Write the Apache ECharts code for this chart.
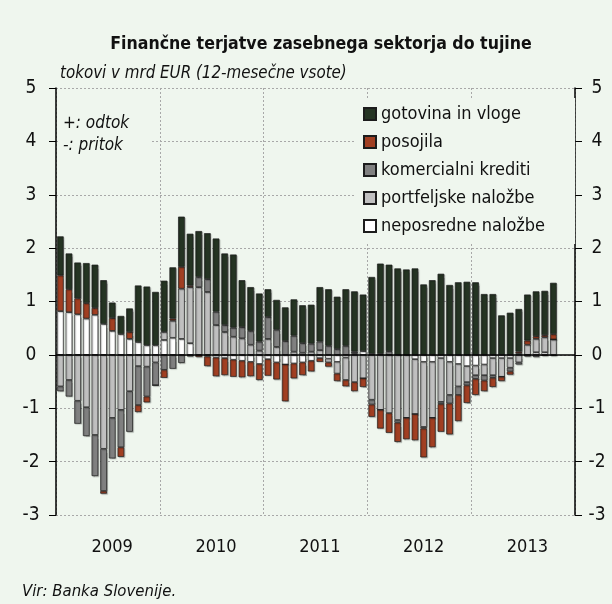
<!DOCTYPE html>
<html>
<head>
<meta charset="utf-8">
<script src="https://cdn.jsdelivr.net/npm/echarts@6/dist/echarts.min.js"></script>
<style>
  html, body { margin: 0; padding: 0; background: #eff6ee; }
  #chart { width: 612px; height: 604px; }
</style>
</head>
<body>
<div id="chart"></div>
<script>
// leta na osi x, meseci so kategorije
const years = ['2009', '2010', '2011', '2012', '2013'];
const yTicks = [-3, -2, -1, 0, 1, 2, 3, 4, 5];

// mesečne vrednosti (12-mesečne vsote, mrd EUR), jan 2009 - okt 2013
const neposredne = [0.82, 0.80, 0.76, 0.68, 0.75, 0.58, 0.45, 0.39, 0.30, 0.24, 0.18, 0.18,
  0.28, 0.32, 0.30, 0.22, 0, -0.03, -0.05, -0.06, -0.09, -0.11, -0.13, -0.17,
  -0.08, -0.14, -0.18, -0.16, -0.14, -0.11, -0.06, -0.07, -0.13, -0.05, 0.03, 0.07,
  0.02, 0.02, 0, 0, 0, -0.08, -0.13, -0.13, -0.06, -0.13, -0.17, -0.21,
  -0.20, -0.18, -0.06, -0.06, -0.06, 0.03, 0, 0.05, 0.05, -0.02];
const portfeljske = [-0.59, -0.47, -0.86, -0.98, -1.50, -1.76, -1.18, -1.03, -0.68, -0.21, -0.22, -0.14,
  0.15, 0.32, 0.94, 1.05, 1.27, 1.18, 0.56, 0.43, 0.34, 0.31, 0.19, 0.08,
  0.30, 0.15, 0, 0.06, 0.04, 0.06, 0.09, -0.07, -0.22, -0.42, -0.51, -0.44,
  -0.84, -1.03, -1.09, -1.22, -1.18, -1.03, -1.22, -1.05, -0.82, -0.62, -0.42, -0.30,
  -0.18, -0.20, -0.32, -0.35, -0.18, -0.14, 0.19, 0.25, 0.28, 0.29];
const komercialni = [-0.09, -0.31, -0.43, -0.54, -0.77, -0.79, -0.76, -0.70, -0.76, -0.73, -0.56, -0.43,
  -0.28, -0.26, -0.15, -0.03, 0.19, 0.24, 0.25, 0.13, 0.17, 0.21, 0.26, 0.17,
  0.41, 0.32, 0.26, 0.30, 0.18, 0.15, 0.16, 0.17, 0.11, 0.17, 0.03, 0,
  -0.09, 0, 0.07, -0.05, 0, 0, -0.03, 0, -0.04, -0.16, -0.16, -0.06,
  -0.07, -0.10, -0.05, 0, -0.07, -0.04, -0.03, -0.04, -0.02, 0];
const posojila = [0.67, 0.43, 0.30, 0.29, 0.13, -0.05, 0.24, -0.18, 0.13, -0.13, -0.11, 0,
  -0.15, 0.04, 0.41, 0.03, -0.04, -0.18, -0.35, -0.32, -0.32, -0.31, -0.27, -0.30,
  -0.31, -0.32, -0.69, -0.28, -0.24, -0.20, -0.07, -0.08, -0.14, -0.12, -0.17, -0.16,
  -0.23, -0.35, -0.37, -0.36, -0.40, -0.49, -0.54, -0.55, -0.52, -0.58, -0.49, -0.33,
  -0.30, -0.20, -0.17, -0.08, -0.06, 0.03, 0.08, 0.05, 0.04, 0.10];
const gotovina = [0.73, 0.67, 0.67, 0.75, 0.81, 0.82, 0.29, 0.34, 0.44, 1.06, 1.10, 1.00,
  0.96, 0.96, 0.94, 0.97, 0.86, 0.86, 1.37, 1.34, 1.37, 0.88, 0.82, 0.90,
  0.52, 0.56, 0.63, 0.68, 0.71, 0.73, 1.02, 1.06, 0.98, 1.06, 1.13, 1.06,
  1.44, 1.69, 1.62, 1.62, 1.60, 1.62, 1.32, 1.40, 1.52, 1.31, 1.36, 1.37,
  1.36, 1.14, 1.14, 0.74, 0.79, 0.80, 0.86, 0.84, 0.83, 0.96];

const months = [];
years.forEach(function (y) {
  for (let m = 1; m <= 12; m++) months.push(y + '-' + (m < 10 ? '0' + m : m));
});

const FONT = "'DejaVu Sans Condensed', 'DejaVu Sans', sans-serif";
const BG = '#eff6ee';

const chart = echarts.init(document.getElementById('chart'), null, { renderer: 'canvas' });

function bar(name, data, color) {
  return {
    name: name,
    type: 'bar',
    stack: 'tok',
    data: data,
    barCategoryGap: '23%',
    itemStyle: {
      color: color,
      borderColor: '#1c1c1c',
      borderWidth: 0.7,
      shadowColor: 'rgba(0,0,0,0.25)',
      shadowOffsetX: 1,
      shadowOffsetY: 1,
      shadowBlur: 1
    },
    emphasis: { disabled: true }
  };
}

const series = [
  bar('neposredne naložbe', neposredne, '#ffffff'),
  bar('portfeljske naložbe', portfeljske, '#c0c0c0'),
  bar('komercialni krediti', komercialni, '#808080'),
  bar('posojila', posojila, '#a13f22'),
  bar('gotovina in vloge', gotovina, '#253423')
];
series[4].markLine = {
  silent: true,
  symbol: 'none',
  label: { show: false },
  lineStyle: { color: '#000', type: 'solid', width: 1.5 },
  data: [{ yAxis: 0 }]
};

function yAxis(pos, margin) {
  return {
    type: 'value',
    position: pos,
    min: yTicks[0],
    max: yTicks[yTicks.length - 1],
    interval: 1,
    axisLine: { show: true, lineStyle: { color: '#000', width: 1.5 } },
    axisTick: { show: true, length: 7, lineStyle: { color: '#000' } },
    axisLabel: { color: '#111', fontSize: 19, fontFamily: FONT, align: 'center', margin: margin },
    splitLine: pos === 'left'
      ? { show: true, lineStyle: { color: '#a8a8a8', type: [2, 2], width: 1 } }
      : { show: false }
  };
}

chart.setOption({
  backgroundColor: BG,
  animation: false,
  textStyle: { fontFamily: FONT },
  title: {
    text: 'Finančne terjatve zasebnega sektorja do tujine',
    left: 316,
    textAlign: 'center',
    top: 30,
    textStyle: { fontSize: 17.6, fontWeight: 'bold', color: '#111', fontFamily: FONT }
  },
  grid: { left: 56, right: 37, top: 88, bottom: 89 },
  legend: {
    orient: 'vertical',
    left: 356,
    top: 98,
    padding: [6, 30, 8, 7],
    backgroundColor: BG,
    itemWidth: 12,
    itemHeight: 12,
    itemGap: 8,
    icon: 'rect',
    data: ['gotovina in vloge', 'posojila', 'komercialni krediti', 'portfeljske naložbe', 'neposredne naložbe'],
    textStyle: { fontSize: 18, color: '#111', fontFamily: FONT, lineHeight: 20 },
    selectedMode: false,
    z: 6
  },
  xAxis: {
    type: 'category',
    data: months,
    axisLine: { show: false, onZero: false },
    axisTick: { show: false },
    axisLabel: {
      interval: function (i) { return i % 12 === 6; },
      formatter: function (v) { return v.slice(0, 4); },
      color: '#111',
      fontSize: 18,
      fontFamily: FONT,
      margin: 23
    },
    splitLine: {
      show: true,
      interval: function (i) { return i % 12 === 0; },
      lineStyle: { color: '#a8a8a8', type: [2, 2], width: 1 }
    }
  },
  yAxis: [yAxis('left', 25), yAxis('right', 22)],
  graphic: [
    {
      type: 'text', left: 60, top: 65, z: 5,
      style: { text: 'tokovi v mrd EUR (12-mesečne vsote)', fill: '#111', font: 'italic 16.8px ' + FONT }
    },
    {
      type: 'rect', left: 58, top: 108, z: 5,
      shape: { width: 92, height: 50 },
      style: { fill: BG }
    },
    {
      type: 'text', left: 63, top: 115, z: 6,
      style: { text: '+: odtok', fill: '#111', font: 'italic 17px ' + FONT }
    },
    {
      type: 'text', left: 63, top: 137, z: 6,
      style: { text: '-: pritok', fill: '#111', font: 'italic 17px ' + FONT }
    },
    {
      type: 'text', left: 22, top: 583, z: 5,
      style: { text: 'Vir: Banka Slovenije.', fill: '#111', font: 'italic 16.6px ' + FONT }
    }
  ],
  series: series
});
</script>
</body>
</html>
